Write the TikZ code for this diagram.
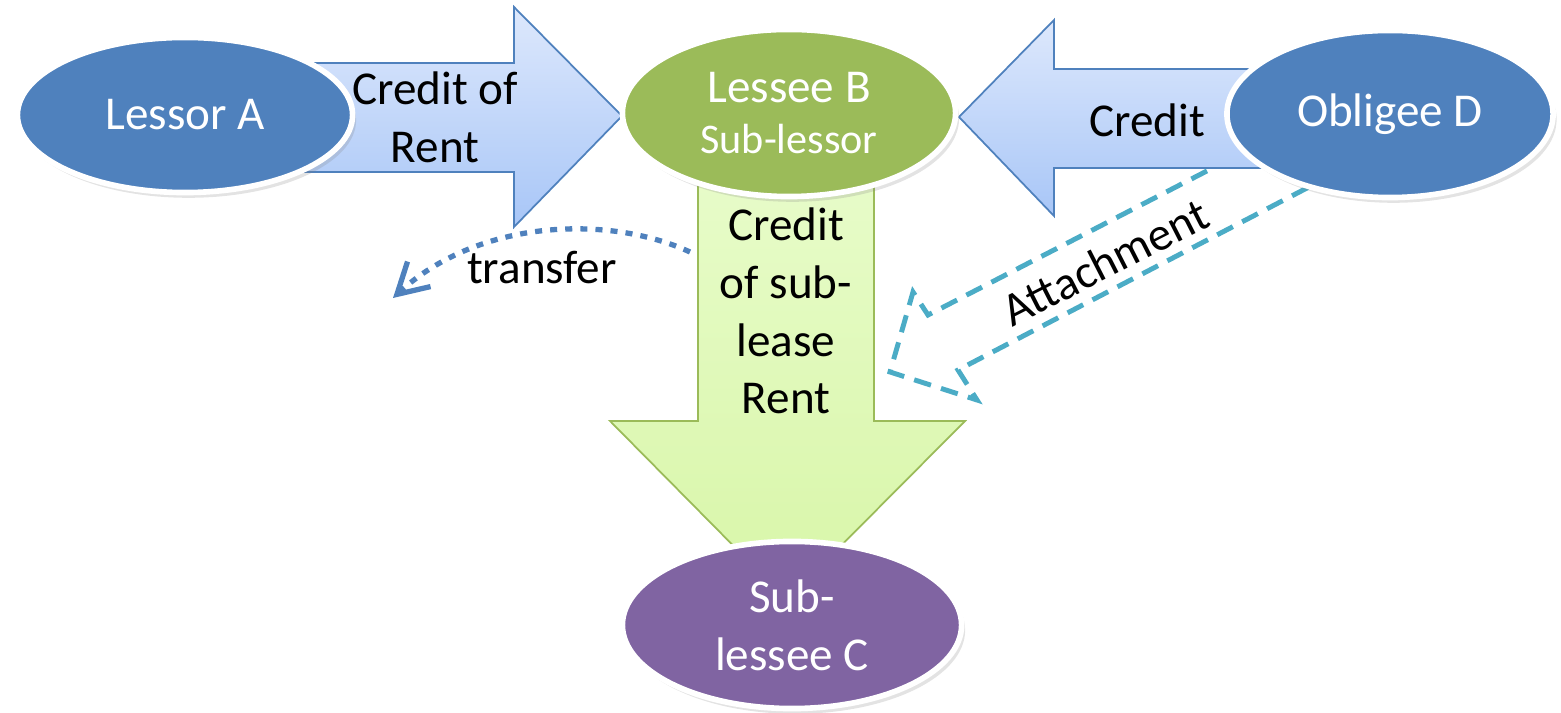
\documentclass[tikz,border=0pt]{standalone}
\usepackage{fontspec}
\setmainfont{Carlito}
\usetikzlibrary{shapes.geometric,arrows.meta,shadows}
\definecolor{partyblue}{HTML}{4F81BD}
\definecolor{partygreen}{HTML}{9BBB59}
\definecolor{partyviolet}{HTML}{8064A2}
\definecolor{attachcol}{HTML}{4BACC6}
\definecolor{bluetop}{HTML}{DDE8FC}
\definecolor{bluebottom}{HTML}{A8C6F7}
\definecolor{greentop}{HTML}{E8FCCB}
\definecolor{greenbottom}{HTML}{D8F6A8}
\tikzset{
    party/.style={ellipse,draw=white,line width=1.6pt,text=white,align=center,
        minimum width=3.33cm,minimum height=1.67cm,
        drop shadow={opacity=0.22,shadow xshift=1pt,shadow yshift=-1.5pt}},
    bluearrow/.style={draw=partyblue,line width=0.5pt,top color=bluetop,bottom color=bluebottom},
    greenarrow/.style={draw=partygreen,line width=0.5pt,top color=greentop,bottom color=greenbottom},
    label/.style={align=center,text=black}
}
\begin{document}
\begin{tikzpicture}[x=0.01cm,y=-0.01cm,font=\fontsize{13.4pt}{16.4pt}\selectfont]
        \useasboundingbox (0,0) rectangle (1561,713);
        % attachment (dashed outline arrow)
        \draw[attachcol,line width=1.4pt,dash pattern=on 5pt off 3pt,line join=miter]
            (1232,158) -- (928,315) -- (913,292) -- (890,372) -- (977,400) -- (958,370) -- (1330,176);
        % block arrows
        \draw[bluearrow] (250,63) -- (514,63) -- (514,7) -- (622,116) -- (514,227) -- (514,172) -- (250,172) -- cycle;
        \draw[bluearrow] (1300,69) -- (1054,69) -- (1054,20) -- (959,117) -- (1054,216) -- (1054,168) -- (1300,168) -- cycle;
        \draw[greenarrow] (698,150) -- (874,150) -- (874,421) -- (965,421) -- (787,600) -- (610,421) -- (698,421) -- cycle;
        % parties
        \node[party,fill=partyblue,minimum width=3.35cm,minimum height=1.55cm] (lessorA) at (185,115) {Lessor A};
        \node[party,fill=partygreen] (lesseeB) at (789,113) {Lessee B\\[-2pt]{\fontsize{12pt}{14pt}\selectfont Sub-lessor}};
        \node[party,fill=partyblue,minimum width=3.26cm] (obligeeD) at (1390,114) {Obligee D};
        \node[party,fill=partyviolet,minimum width=3.39cm] (sublesseeC) at (792,625) {Sub-\\lessee C};
        % labels
        \node[label] (rentlbl) at (435,117) {Credit of\\Rent};
        \node[label] (creditlbl) at (1147,120) {Credit};
        \node[label] (subleaselbl) at (786,311) {Credit\\of sub-\\lease\\Rent};
        \node[label,rotate=27] (attachlbl) at (1105,262) {Attachment};
        \node[label] (transferlbl) at (542,268) {transfer};
        % transfer
        \coordinate (trfrom) at (690,252);
        \coordinate (trto) at (393,298);
        \draw[partyblue,line width=1.5pt,dash pattern=on 2pt off 2.3pt,-{Straight Barb[length=0.3cm,width=0.34cm,line width=1.5pt]}]
            (trfrom) .. controls (610,215) and (480,218) .. (trto);
\end{tikzpicture}
\end{document}
